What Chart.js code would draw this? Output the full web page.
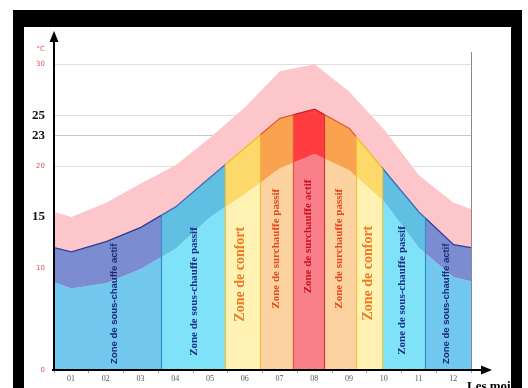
<!DOCTYPE html>
<html lang="fr">
<head>
<meta charset="utf-8">
<title>Zones de confort thermique</title>
<script src="https://cdn.jsdelivr.net/npm/chart.js@4.4.1/dist/chart.umd.min.js"></script>
<style>
    html, body { margin: 0; padding: 0; background: #ffffff; }
    #chart { display: block; }
</style>
</head>
<body>
<canvas id="chart" width="528" height="388"></canvas>
<script>
const months = ['01', '02', '03', '04', '05', '06', '07', '08', '09', '10', '11', '12'];

// températures lues au milieu de chaque mois
const maxTemps = [15.0, 16.4, 18.3, 20.1, 22.8, 25.8, 29.3, 30.0, 27.3, 23.6, 19.1, 16.4];
const meanTemps = [11.6, 12.6, 14.0, 16.0, 18.9, 21.8, 24.7, 25.6, 23.7, 19.6, 15.5, 12.3];
const minTemps = [8.0, 8.5, 9.9, 11.9, 15.0, 17.3, 19.8, 21.2, 19.6, 16.5, 12.0, 9.1];

// valeurs au bord de l'axe (début / fin d'année)
const maxEdges = [15.5, 15.8];
const meanEdges = [12.0, 12.0];
const minEdges = [8.6, 8.7];

const yTicks = [0, 5, 10, 15, 20, 23, 25, 30];
const keyTicks = [15, 23, 25];

const zoneTypes = ['froidActif', 'froidPassif', 'confort', 'chaudPassif', 'chaudActif', 'chaudPassif', 'confort', 'froidPassif', 'froidActif'];
const zoneEdges = [0, 3.08, 4.92, 5.93, 6.87, 7.77, 8.69, 9.45, 10.69, 12];

const zoneNames = {
    froidActif: 'Zone de sous-chauffe actif',
    froidPassif: 'Zone de sous-chauffe passif',
    confort: 'Zone de confort',
    chaudPassif: 'Zone de surchauffe passif',
    chaudActif: 'Zone de surchauffe actif'
};

// --- mise en forme ---
const ZONE_STYLES = {
    froidActif: { light: '#72c7ee', dark: '#7b8dd0', line: '#2f3b8f', text: '#1d2a78', font: 'bold 9.5px "Liberation Sans", Arial, sans-serif' },
    froidPassif: { light: '#7fe2f8', dark: '#62bfe4', line: '#3b6cb4', text: '#1f2d8a', font: 'bold 11px "Liberation Serif", serif' },
    confort: { light: '#fff2b2', dark: '#fdd86a', line: '#f1bd1e', text: '#f07a22', font: 'bold 14px "Liberation Serif", serif' },
    chaudPassif: { light: '#fcd3a0', dark: '#f9a24f', line: '#e2592c', text: '#e4481c', font: 'bold 11px "Liberation Serif", serif' },
    chaudActif: { light: '#f9808a', dark: '#ff3d40', line: '#c81e24', text: '#c8141e', font: 'bold 11px "Liberation Serif", serif' }
};
const EDGE_COLORS = ['#3a8ad0', '#f2c53a', '#f2b83a', '#e8553a', '#d8343a', '#f3c03a', '#f0c83a', '#3a8ad0'];
// position des libellés de zone (unités mois / °C)
const LABEL_POS = [[1.75, 6.5], [4.03, 7.7], [5.35, 9.4], [6.38, 11.9], [7.31, 13.1], [8.2, 11.9], [9.06, 9.5], [10.01, 7.8], [11.3, 6.5]];
const PINK = '#fcc6cb';
const RED_TICK = '#e4535d';

function toPoints(edges, values) {
    return [
        { x: 0, y: edges[0] },
        ...values.map((v, i) => ({ x: i + 0.5, y: v })),
        { x: months.length, y: edges[1] }
    ];
}

function zoneGradient(chart, key) {
    const { ctx, chartArea, scales } = chart;
    if (!chartArea || !scales.x) return undefined;
    const left = chartArea.left;
    const width = chartArea.right - chartArea.left;
    const pos = (v) => Math.min(1, Math.max(0, (scales.x.getPixelForValue(v) - left) / width));
    const g = ctx.createLinearGradient(left, 0, chartArea.right, 0);
    zoneTypes.forEach((type, i) => {
        const color = ZONE_STYLES[type][key];
        g.addColorStop(pos(zoneEdges[i]), color);
        g.addColorStop(pos(zoneEdges[i + 1]), color);
    });
    return g;
}

const decorPlugin = {
    id: 'decor',
    afterDatasetsDraw(chart) {
        const { ctx, chartArea, scales } = chart;
        const meanPts = chart.getDatasetMeta(1).data;

        // traits verticaux entre zones, sous la courbe moyenne
        ctx.save();
        ctx.beginPath();
        ctx.moveTo(meanPts[0].x, chartArea.bottom);
        meanPts.forEach((p) => ctx.lineTo(p.x, p.y));
        ctx.lineTo(meanPts[meanPts.length - 1].x, chartArea.bottom);
        ctx.closePath();
        ctx.clip();
        ctx.lineWidth = 1.2;
        zoneEdges.slice(1, -1).forEach((edge, i) => {
            const x = Math.round(scales.x.getPixelForValue(edge)) + 0.5;
            ctx.strokeStyle = EDGE_COLORS[i];
            ctx.beginPath();
            ctx.moveTo(x, chartArea.top);
            ctx.lineTo(x, chartArea.bottom);
            ctx.stroke();
        });
        ctx.restore();

        // libellés verticaux
        zoneTypes.forEach((type, i) => {
            const style = ZONE_STYLES[type];
            const [vx, vy] = LABEL_POS[i];
            ctx.save();
            ctx.translate(scales.x.getPixelForValue(vx), scales.y.getPixelForValue(vy));
            ctx.rotate(-Math.PI / 2);
            ctx.font = style.font;
            ctx.fillStyle = style.text;
            ctx.textAlign = 'center';
            ctx.textBaseline = 'middle';
            ctx.fillText(zoneNames[type], 0, 0);
            ctx.restore();
        });
    },
    afterDraw(chart) {
        const { ctx, chartArea } = chart;
        const { left, right, top, bottom } = chartArea;
        ctx.save();

        // bord droit
        ctx.strokeStyle = '#8a8a8a';
        ctx.lineWidth = 1;
        ctx.beginPath();
        ctx.moveTo(right + 0.5, top);
        ctx.lineTo(right + 0.5, bottom);
        ctx.stroke();

        // axes avec flèches
        ctx.strokeStyle = '#000';
        ctx.fillStyle = '#000';
        ctx.lineWidth = 2;
        ctx.beginPath();
        ctx.moveTo(left, bottom);
        ctx.lineTo(left, 40);
        ctx.moveTo(left - 2, bottom);
        ctx.lineTo(483, bottom);
        ctx.stroke();
        ctx.beginPath();
        ctx.moveTo(left, 31);
        ctx.lineTo(left - 4.5, 42);
        ctx.lineTo(left + 4.5, 42);
        ctx.closePath();
        ctx.fill();
        ctx.beginPath();
        ctx.moveTo(492, bottom);
        ctx.lineTo(481, bottom - 4.5);
        ctx.lineTo(481, bottom + 4.5);
        ctx.closePath();
        ctx.fill();

        // unité
        ctx.font = '7px "DejaVu Sans", sans-serif';
        ctx.fillStyle = RED_TICK;
        ctx.textAlign = 'right';
        ctx.textBaseline = 'middle';
        ctx.fillText('°C', 45, 49);

        // titre de l'axe des x (coupé par le cadre)
        ctx.font = 'bold 13px "Liberation Serif", serif';
        ctx.fillStyle = '#000';
        ctx.textAlign = 'left';
        ctx.textBaseline = 'top';
        ctx.fillText('Les mois', 467, 380);

        // cadre noir
        ctx.fillStyle = '#000';
        ctx.fillRect(13, 10, 509, 17);
        ctx.fillRect(13, 10, 11, 378);
        ctx.fillRect(511, 10, 11, 378);
        ctx.restore();
    }
};

const chart = new Chart(document.getElementById('chart'), {
    type: 'line',
    data: {
        datasets: [
            {
                label: 'Max',
                data: toPoints(maxEdges, maxTemps),
                fill: '+1',
                backgroundColor: PINK,
                borderWidth: 0,
                pointRadius: 0,
                order: 2
            },
            {
                label: 'Moyenne',
                data: toPoints(meanEdges, meanTemps),
                fill: '+1',
                backgroundColor: (ctx) => zoneGradient(ctx.chart, 'dark'),
                borderColor: (ctx) => zoneGradient(ctx.chart, 'line'),
                borderWidth: 1.3,
                pointRadius: 0,
                order: 0
            },
            {
                label: 'Min',
                data: toPoints(minEdges, minTemps),
                fill: 'origin',
                backgroundColor: (ctx) => zoneGradient(ctx.chart, 'light'),
                borderWidth: 0,
                pointRadius: 0,
                order: 1
            }
        ]
    },
    options: {
        responsive: false,
        animation: false,
        events: [],
        layout: { padding: { left: 0, right: 57, top: 52, bottom: 0 } },
        plugins: { legend: { display: false }, tooltip: { enabled: false } },
        scales: {
            x: {
                type: 'linear',
                min: 0,
                max: 12,
                z: 1,
                afterFit(scale) { scale.height = 18; },
                border: { display: false },
                grid: { drawOnChartArea: false, drawTicks: true, tickLength: 3, color: '#9a9a9a' },
                ticks: {
                    stepSize: 1,
                    autoSkip: false,
                    maxRotation: 0,
                    labelOffset: 17,
                    padding: 1,
                    color: '#555',
                    font: { family: 'Liberation Serif', size: 8 },
                    callback: (v) => months[v] ?? ''
                }
            },
            y: {
                min: 0,
                max: 31.2,
                z: 1,
                afterFit(scale) { scale.width = 54; },
                afterBuildTicks(scale) { scale.ticks = yTicks.map((v) => ({ value: v })); },
                border: { display: false },
                grid: {
                    drawTicks: false,
                    color: (ctx) => {
                        const v = ctx.tick?.value;
                        if (v === 0 || v === 5) return 'rgba(0,0,0,0)';
                        return v === 23 || v === 15 ? 'rgba(80,80,80,0.33)' : 'rgba(80,80,80,0.18)';
                    }
                },
                ticks: {
                    autoSkip: false,
                    padding: 9,
                    callback: (v) => (v === 5 ? '' : String(v)),
                    color: (ctx) => (keyTicks.includes(ctx.tick?.value) ? '#111' : RED_TICK),
                    font: (ctx) => (keyTicks.includes(ctx.tick?.value)
                        ? { family: 'Liberation Serif', size: 13, weight: 'bold' }
                        : { family: 'DejaVu Sans', size: 7 })
                }
            }
        }
    },
    plugins: [decorPlugin]
});
</script>
</body>
</html>
